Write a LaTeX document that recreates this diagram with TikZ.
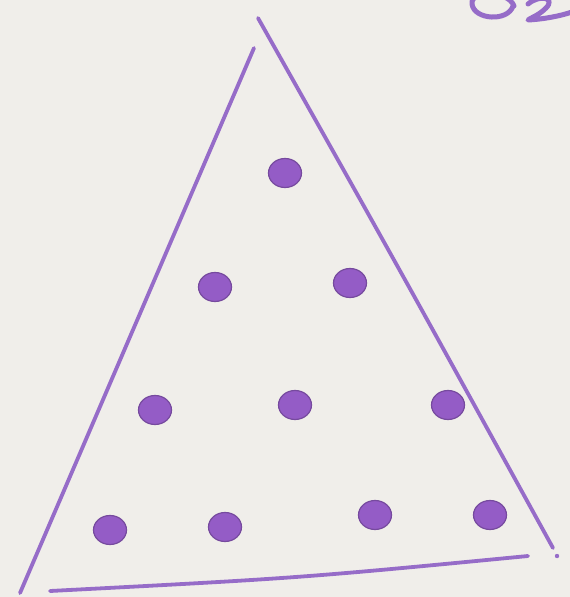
\documentclass[tikz,border=0pt]{standalone}
\begin{document}
\begin{tikzpicture}[x=1pt,y=-1pt,
  pen/.style={draw=penc,line width=3.8pt,line cap=round,line join=round},
  dotn/.style={ellipse,fill=dotc,minimum width=33pt,minimum height=29pt,inner sep=0pt,draw=dotc!80!black,line width=1.2pt}]
\usetikzlibrary{shapes.geometric}
\definecolor{bg}{RGB}{240,238,234}
\definecolor{penc}{RGB}{150,108,200}
\definecolor{dotc}{RGB}{148,92,198}
\fill[bg] (0,0) rectangle (570,597);
\useasboundingbox (0,0) rectangle (570,597);
% triangle sides
\coordinate (tl) at (254,48);
\coordinate (bl) at (20,593);
\coordinate (tr) at (258,18);
\coordinate (br) at (553,548);
\coordinate (b1) at (50,591);
\coordinate (b2) at (528,556);
\draw[pen] (tl) -- (bl);
\draw[pen] (tr) .. controls (400,270) .. (br);
\draw[pen] (b1) .. controls (300,578) .. (b2);
\fill[penc] (557,556) circle (2.2pt);
% partial handwriting top right
\draw[pen,line width=5pt] (514,6) .. controls (508,-10) and (470,-10) .. (472,4) .. controls (474,20) and (508,22) .. (513,6);
\draw[pen,line width=5pt] (528,4) .. controls (540,-6) and (556,-2) .. (546,8) .. controls (538,16) and (530,18) .. (528,20) .. controls (545,19) and (560,16) .. (572,12);
% dots
\node[dotn] (d1) at (285,173) {};
\node[dotn] (d2) at (215,287) {};
\node[dotn] (d3) at (350,283) {};
\node[dotn] (d4) at (155,410) {};
\node[dotn] (d5) at (295,405) {};
\node[dotn] (d6) at (448,405) {};
\node[dotn] (d7) at (110,530) {};
\node[dotn] (d8) at (225,527) {};
\node[dotn] (d9) at (375,515) {};
\node[dotn] (d10) at (490,515) {};
\end{tikzpicture}
\end{document}
